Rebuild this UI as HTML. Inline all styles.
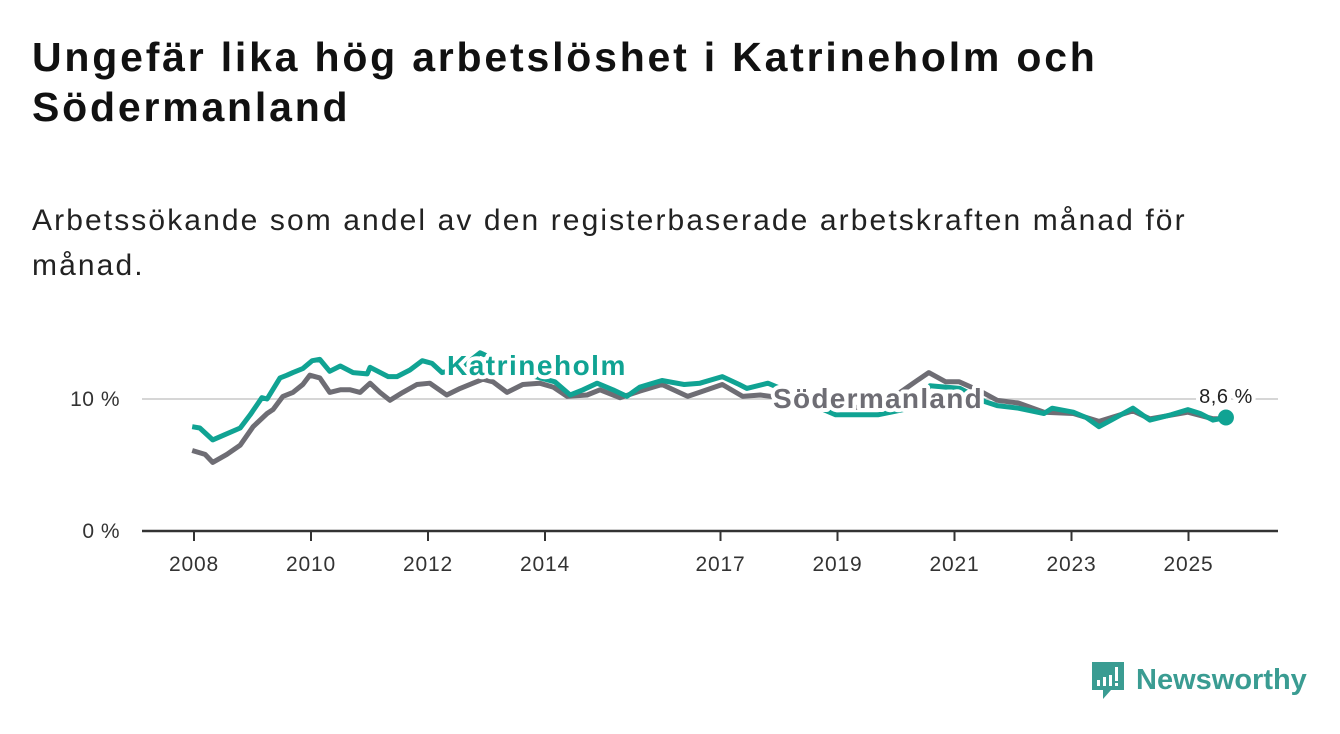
<!DOCTYPE html>
<html><head><meta charset="utf-8"><style>
body{margin:0;background:#fff;width:1340px;height:734px;overflow:hidden;font-family:"Liberation Sans","DejaVu Sans",sans-serif}
h1{position:absolute;left:32px;top:32px;margin:0;font-size:41px;letter-spacing:2.8px;line-height:50px;font-weight:bold;color:#111;width:1120px}
.sub{position:absolute;left:32px;top:198px;margin:0;font-size:30px;letter-spacing:2.1px;line-height:45px;color:#222;width:1220px}
svg{position:absolute;left:0;top:0}
</style></head><body>
<h1>Ungefär lika hög arbetslöshet i Katrineholm och Södermanland</h1>
<p class="sub">Arbetssökande som andel av den registerbaserade arbetskraften månad för månad.</p>
<svg id="chart" width="1340" height="734"></svg>
<script>
const kYears=[2007.97,2008.10,2008.32,2008.53,2008.79,2008.96,2009.16,2009.25,2009.47,2009.59,2009.69,2009.86,2010.02,2010.15,2010.32,2010.50,2010.72,2010.96,2011.01,2011.32,2011.47,2011.69,2011.90,2012.07,2012.24,2012.55,2012.89,2013.23,2013.74,2014.17,2014.43,2014.65,2014.89,2015.16,2015.40,2015.62,2016.0,2016.38,2016.65,2017.03,2017.32,2017.45,2017.81,2018.19,2018.6,2018.97,2019.69,2020.24,2020.58,2021.09,2021.52,2021.73,2022.09,2022.53,2022.67,2023.03,2023.25,2023.47,2023.68,2024.05,2024.34,2024.70,2024.99,2025.20,2025.42,2025.64];
const kValues=[7.9,7.8,6.9,7.3,7.8,8.8,10.1,10.0,11.6,11.8,12.0,12.3,12.9,13.0,12.1,12.5,12.0,11.9,12.4,11.7,11.7,12.2,12.9,12.7,12.0,12.3,13.5,12.8,11.8,11.3,10.3,10.7,11.2,10.7,10.2,10.9,11.4,11.1,11.2,11.7,11.1,10.8,11.2,10.5,9.5,8.8,8.8,9.3,11.0,10.8,9.8,9.5,9.3,8.9,9.3,9.0,8.6,7.9,8.4,9.3,8.4,8.8,9.2,8.9,8.4,8.6];
const sYears=[2007.97,2008.19,2008.32,2008.56,2008.79,2009.01,2009.25,2009.35,2009.52,2009.69,2009.86,2009.98,2010.15,2010.32,2010.50,2010.67,2010.84,2011.01,2011.18,2011.35,2011.57,2011.81,2012.03,2012.32,2012.55,2012.77,2012.94,2013.11,2013.35,2013.62,2013.91,2014.14,2014.38,2014.72,2014.94,2015.28,2015.62,2016.0,2016.44,2017.03,2017.38,2017.68,2018.19,2018.87,2019.56,2020.07,2020.36,2020.56,2020.85,2021.08,2021.44,2021.73,2022.09,2022.53,2023.03,2023.47,2024.05,2024.34,2024.99,2025.42,2025.64];
const sValues=[6.1,5.8,5.2,5.8,6.5,7.9,8.9,9.2,10.2,10.5,11.1,11.8,11.6,10.5,10.7,10.7,10.5,11.2,10.5,9.9,10.5,11.1,11.2,10.3,10.8,11.2,11.5,11.3,10.5,11.1,11.2,10.9,10.2,10.3,10.7,10.1,10.6,11.1,10.2,11.1,10.2,10.3,10.0,9.5,9.3,10.5,11.4,12.0,11.3,11.3,10.6,9.9,9.7,9.0,8.9,8.3,9.1,8.5,9.0,8.5,8.5];
const xTicks=[2008,2010,2012,2014,2017,2019,2021,2023,2025];
const yTicks=[0,10];
const xs=y=>194+(y-2008)*58.5;
const ys=v=>531-v*13.2;
const NS="http://www.w3.org/2000/svg";
const svg=document.getElementById('chart');
function mk(t,a){const e=document.createElementNS(NS,t);for(const k in a)e.setAttribute(k,a[k]);svg.appendChild(e);return e;}
yTicks.forEach(v=>{
  if(v>0){const g=mk('line',{x1:142,x2:1278,y1:ys(v),y2:ys(v),stroke:'#d6d6d6','stroke-width':2});
  
  }
  const t=mk('text',{x:120,y:ys(v)+7,'text-anchor':'end','font-size':21,'letter-spacing':0.5,fill:'#333'});t.textContent=v+' %';
  
  
});
const ax=mk('line',{x1:142,x2:1278,y1:531,y2:531,stroke:'#333','stroke-width':2.5});


xTicks.forEach(y=>{
  const tk=mk('line',{x1:xs(y),x2:xs(y),y1:531,y2:541,stroke:'#333','stroke-width':2});
  
  
  const t=mk('text',{x:xs(y),y:571,'text-anchor':'middle','font-size':21,'letter-spacing':0.8,fill:'#333'});t.textContent=y;
  
  
});
function path(X,V){return X.map((x,i)=>(i?'L':'M')+xs(x).toFixed(1)+' '+ys(V[i]).toFixed(1)).join('');}
const sl=mk('path',{d:path(sYears,sValues),fill:'none',stroke:'#6e6d74','stroke-width':5,'stroke-linejoin':'round'});


const kl=mk('path',{d:path(kYears,kValues),fill:'none',stroke:'#10a393','stroke-width':5,'stroke-linejoin':'round'});


const li=kYears.length-1;
const dot=mk('circle',{cx:xs(kYears[li]),cy:ys(kValues[li]),r:8,fill:'#10a393'});


function lab(x,y,txt,fill,size,weight,name,anchor,ls){
  const t=mk('text',{x:x,y:y,'font-size':size,'font-weight':weight,'letter-spacing':ls||0,fill:fill,stroke:'#fff','stroke-width':8,'paint-order':'stroke','stroke-linejoin':'round','text-anchor':anchor||'start'});
  t.textContent=txt;
  
  
}
lab(447,375,'Katrineholm','#10a393',28,'bold','katrineholm-label','start',1.5);
lab(773,408,'Södermanland','#6e6d74',28,'bold','sodermanland-label','start',1.3);
lab(1226,403,kValues[li].toFixed(1).replace('.',',')+' %','#222',20,'normal','last-value-label','middle',0.5);
</script>
<svg width="1340" height="734" style="pointer-events:none">
  <path d="M1092 662h32v28h-13l-8 9v-9h-11z" fill="#3a9c92"/>
  <rect x="1097" y="680" width="3" height="6" fill="#fff"/><rect x="1103" y="677" width="3" height="9" fill="#fff"/><rect x="1109" y="675" width="3" height="11" fill="#fff"/><rect x="1115" y="667" width="3" height="14" fill="#fff"/><rect x="1115" y="683" width="3" height="3" fill="#fff"/>
  <text x="1136" y="689" font-size="29" font-weight="bold" fill="#3a9c92" font-family="Liberation Sans, sans-serif">Newsworthy</text>
</svg>
</body></html>
